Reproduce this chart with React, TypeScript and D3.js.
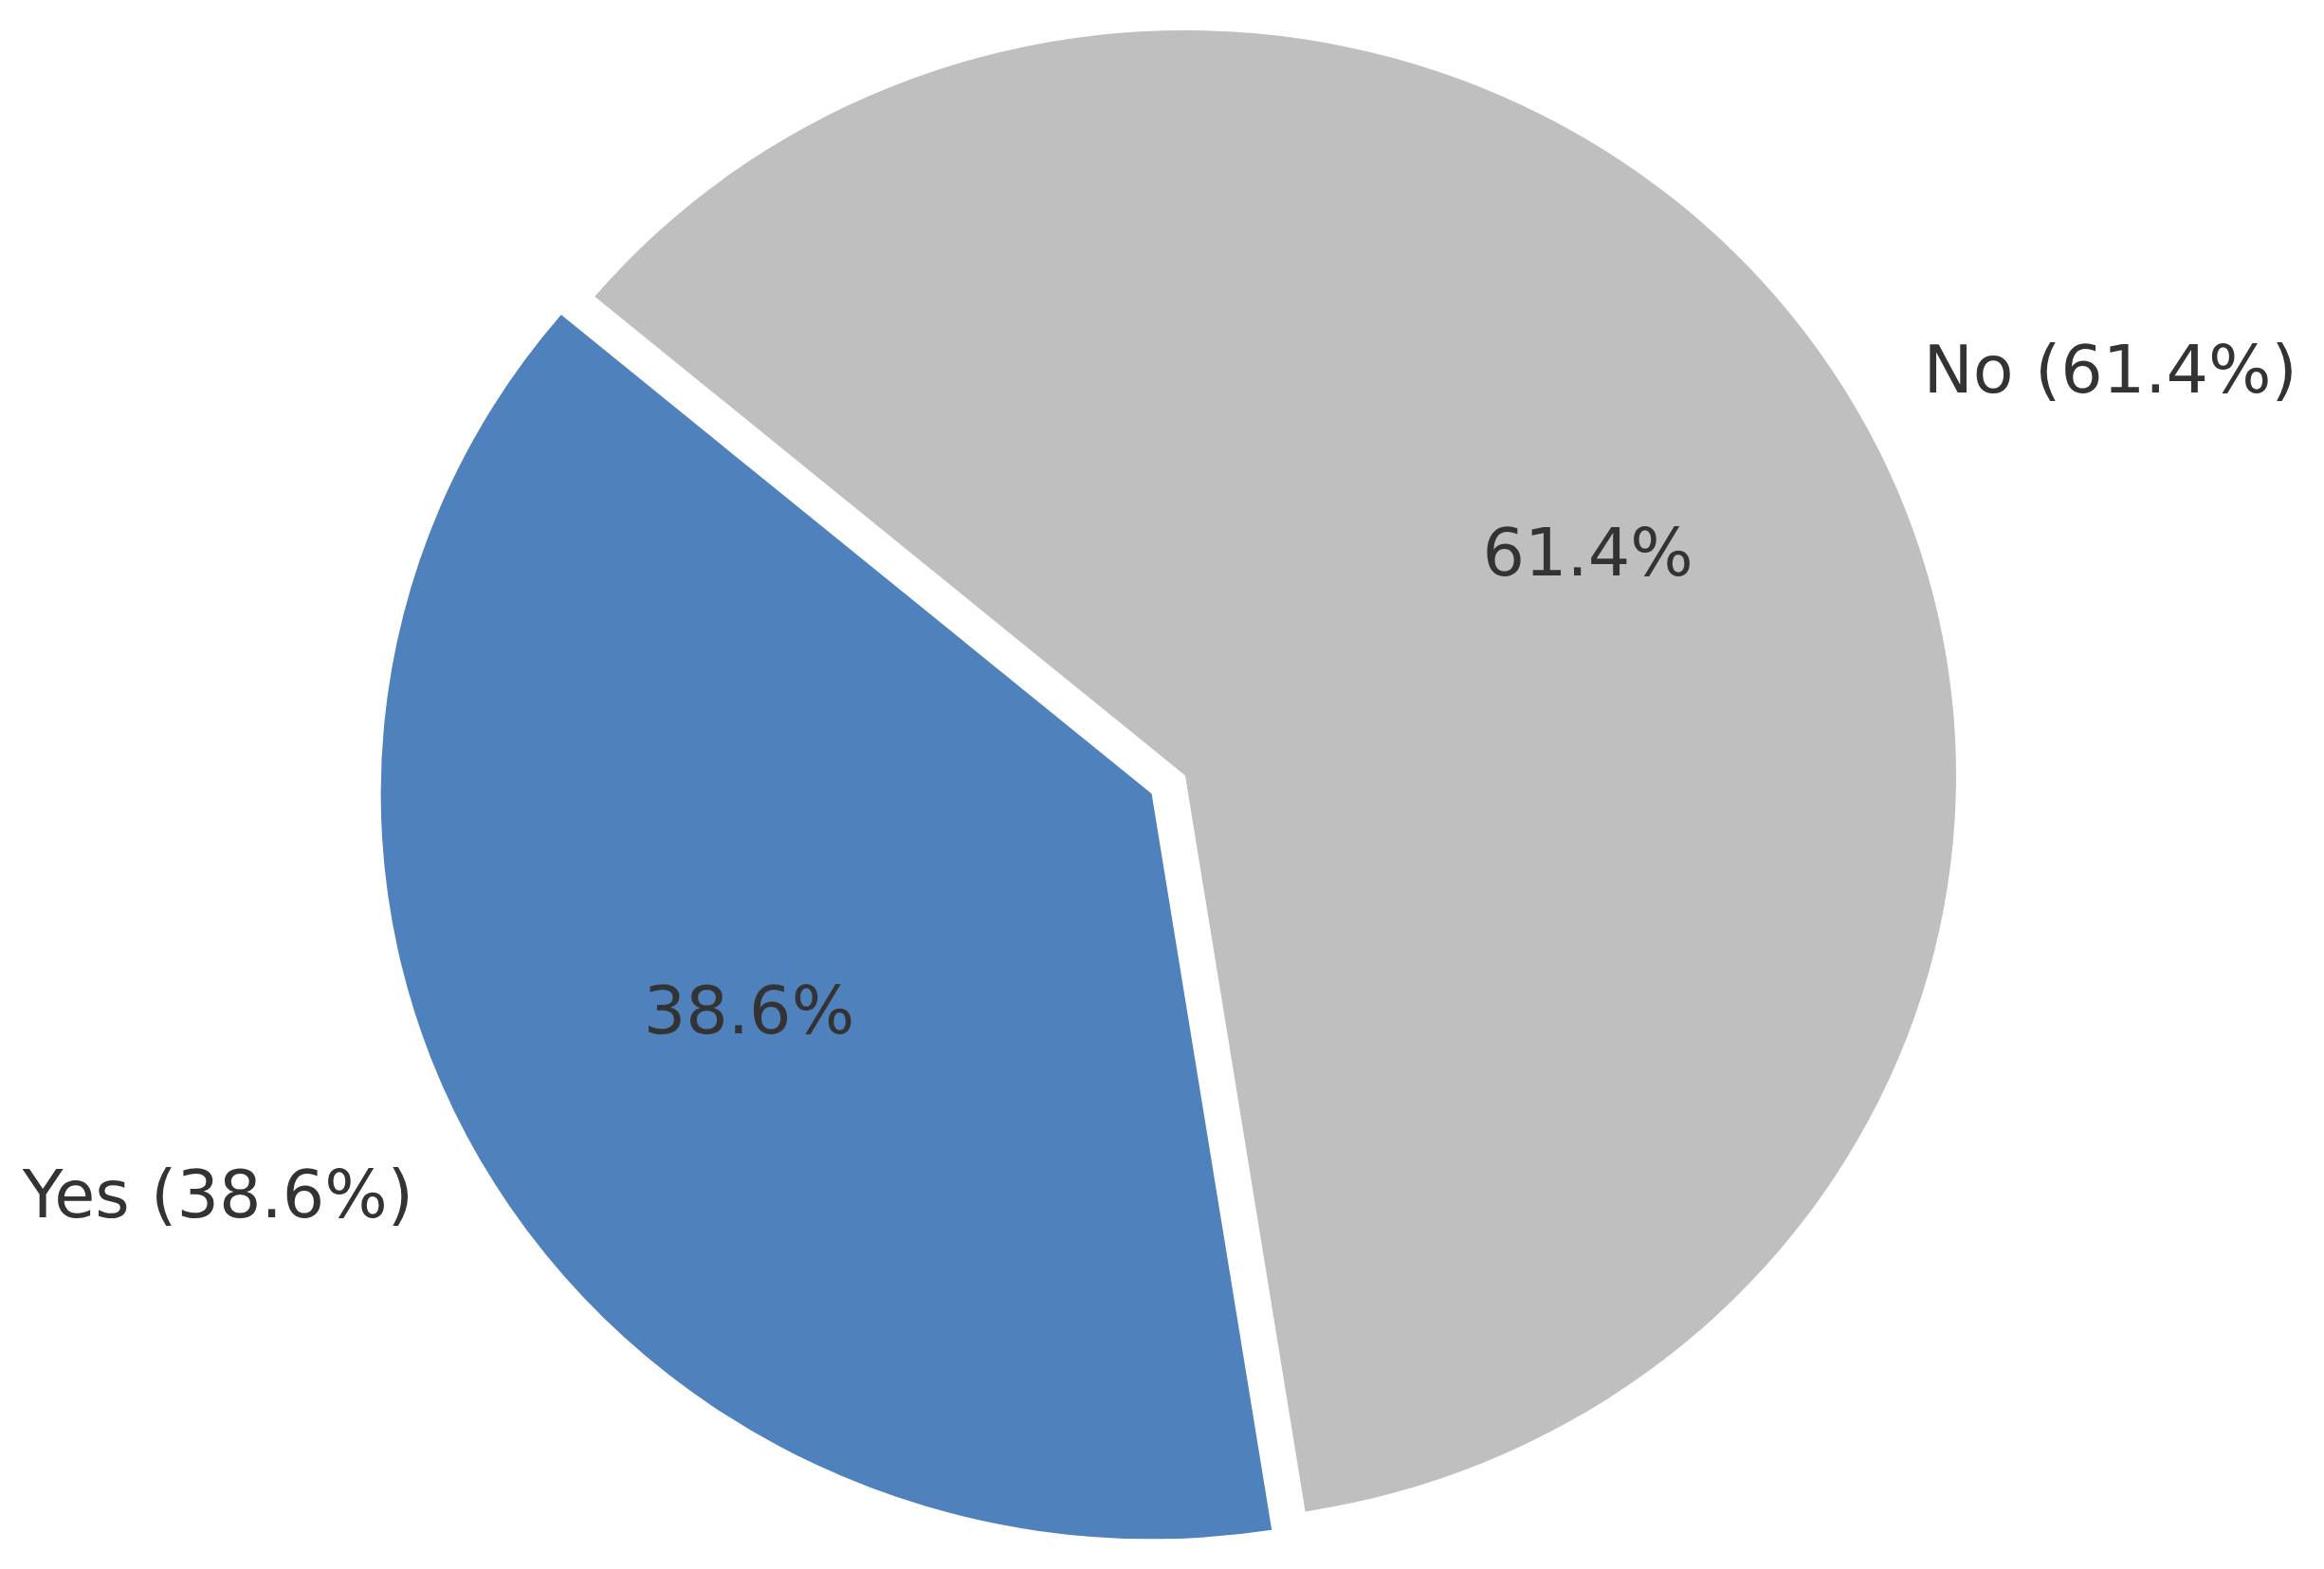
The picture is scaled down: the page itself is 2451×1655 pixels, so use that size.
import React from "react";
import * as d3 from "d3";

const categories = ["Yes", "No"];
const values = [38.6, 61.4];
const colors = ["#4f81bd", "#bfbfbf"];

const W = 2451;
const H = 1655;
const cx = 1250;
const cy = 818;
const rx = 813;
const ry = 786;
const startAngleDeg = 140;
const explode = [0.05, 0];
const fontSize = 70;
const textColor = "#333333";

export default function App() {
  // matplotlib-like: counterclockwise from startAngle (math coords)
  const total = d3.sum(values);
  const angleScale = d3.scaleLinear().domain([0, total]).range([0, 360]);
  let acc = 0;
  const slices = values.map((v, i) => {
    const a0 = startAngleDeg + angleScale(acc);
    acc += v;
    const a1 = startAngleDeg + angleScale(acc);
    return { i, v, a0, a1, mid: (a0 + a1) / 2 };
  });

  // d3.arc uses clockwise-from-top angles; convert math angle θ -> π/2 - θ
  const toD3 = (deg: number) => Math.PI / 2 - (deg * Math.PI) / 180;
  const arc = d3.arc<any>().innerRadius(0).outerRadius(rx);
  const sy = ry / rx;

  return (
    <div style={{ position: "fixed", left: 0, top: 0, width: W, height: H, background: "#fff" }}>
      <svg width={W} height={H} style={{ display: "block" }}>
        <rect width={W} height={H} fill="#ffffff" />
        {slices.map((s) => {
          const m = (s.mid * Math.PI) / 180;
          const ox = explode[s.i] * rx * Math.cos(m);
          const oy = -explode[s.i] * ry * Math.sin(m);
          const d = arc({ startAngle: toD3(s.a1), endAngle: toD3(s.a0) }) as string;
          return (
            <g key={"w" + s.i} transform={`translate(${cx + ox},${cy + oy}) scale(1,${sy})`}>
              <path d={d} fill={colors[s.i]} />
            </g>
          );
        })}
        {slices.map((s) => {
          const m = (s.mid * Math.PI) / 180;
          const c = Math.cos(m);
          const sn = Math.sin(m);
          const ox = cx + explode[s.i] * rx * c;
          const oy = cy - explode[s.i] * ry * sn;
          const lx = ox + 1.1 * rx * c;
          const ly = oy - 1.1 * ry * sn;
          const px = ox + 0.6 * rx * c;
          const py = oy - 0.6 * ry * sn;
          const pct = d3.format(".1f")((s.v / total) * 100) + "%";
          return (
            <g key={"t" + s.i} fontFamily="'DejaVu Sans', sans-serif" fontSize={fontSize} fill={textColor}>
              <text x={lx} y={ly} dy="0.3em" textAnchor={c > 0 ? "start" : "end"}>
                {`${categories[s.i]} (${pct})`}
              </text>
              <text x={px} y={py} dy="0.3em" textAnchor="middle">
                {pct}
              </text>
            </g>
          );
        })}
      </svg>
    </div>
  );
}
